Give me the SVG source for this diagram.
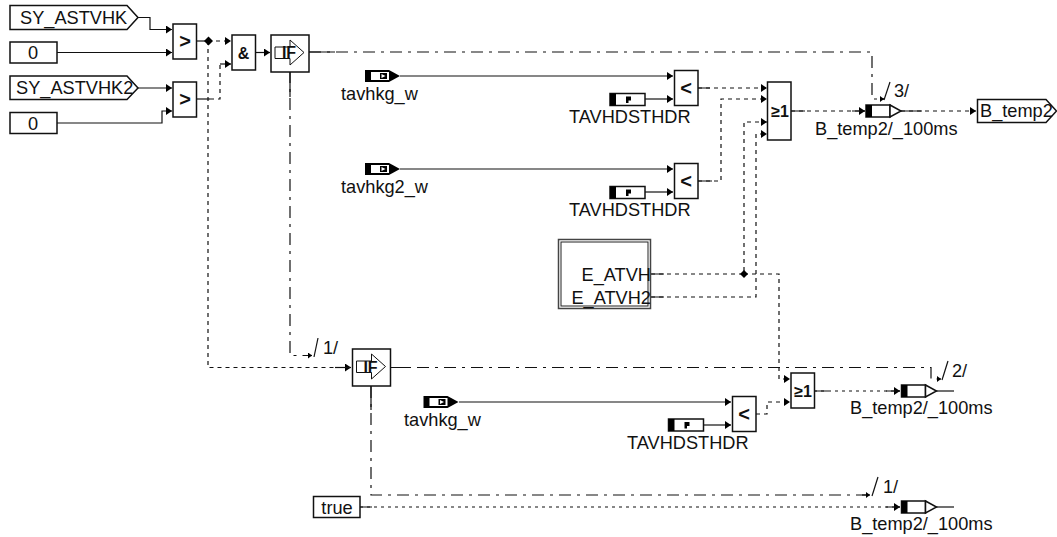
<svg xmlns="http://www.w3.org/2000/svg" xmlns:xlink="http://www.w3.org/1999/xlink" width="1057" height="537" viewBox="0 0 1057 537">
<style>
text{font-family:"Liberation Sans",Arial,sans-serif;fill:#111}
.l{font-size:18.2px}
.b{font-size:20px;font-weight:bold;text-anchor:middle}
.f{font-size:16px;font-weight:bold;text-anchor:middle}
.box{fill:#fff;stroke:#111;stroke-width:1.5}
.w{fill:none;stroke:#111;stroke-width:1.2}
.so{marker-end:url(#a)}
.sm{marker-end:url(#s)}
.dot{stroke-dasharray:4 4}
.fine{stroke-dasharray:3 4}
.dd{stroke-dasharray:12 6 3 6}
</style>
<defs>
<marker id="a" markerUnits="userSpaceOnUse" markerWidth="6" markerHeight="8" refX="6" refY="4" orient="auto"><path d="M0 0L6 4L0 8Z" fill="#000"/></marker>
<marker id="s" markerUnits="userSpaceOnUse" markerWidth="4" markerHeight="6" refX="4" refY="3" orient="auto"><path d="M0 0L4 3L0 6Z" fill="#000"/></marker>
<g id="gate"><rect class="box" x="0" y="0" width="23.500" height="35"/></g>
<g id="in"><path d="M0 0H24L35 6L24 12H0Z" fill="#000"/><rect x="6" y="2" width="18" height="8" fill="#fff"/><rect x="15" y="3" width="7" height="6" fill="#000"/><path d="M16.500 4L20.500 6L16.500 8Z" fill="#fff"/></g>
<g id="par"><rect class="box" x="0" y="0" width="35" height="12"/><rect x="0" y="0" width="6" height="12" fill="#000"/><path d="M16 3H21V7H18.500V9.500H16Z" fill="#000"/></g>
<g id="out"><rect class="box" x="0" y="0" width="24" height="12"/><rect x="0" y="0" width="6" height="12" fill="#000"/><path class="box" d="M24 0L35 6L24 12Z"/></g>
<g id="ifb"><rect class="box" x="0" y="0" width="38" height="37"/><path d="M4 12H19V5L33 17.500L19 30V23.500H4Z" fill="#fff" stroke="#111" stroke-width="1"/></g>
</defs>
<g id="connectors">
<path class="w so" d="M138 17.500H150V29.500H172"/>
<path class="w so" d="M57 52.500H172"/>
<path class="w so" d="M138 88H172"/>
<path class="w so" d="M57 123H162V111H172"/>
<path class="w" d="M197 41H208"/>
<path class="w so dot" d="M208 41H231"/>
<path class="w" d="M197 99H210"/>
<path class="w dot" d="M210 99H220V64"/>
<path class="w so" d="M220 64H231"/>
<path class="w so" d="M255 52.500H270"/>
<path class="w dd" d="M309 52H872V99H884"/>
<path class="w sm" d="M880 99H884"/>
<path class="w" d="M884 100L890 82"/>
<path class="w dd" d="M290 71V355.500H312"/>
<path class="w sm" d="M308 355.500H312"/>
<path class="w" d="M314 357L318 338"/>
<path class="w so dot" d="M208 41V367.500H351"/>
<path class="w" d="M335 367.500H351"/>
<path class="w dd" d="M390 367.500H931V379H941"/>
<path class="w sm" d="M937 379H941"/>
<path class="w" d="M942 380L948 361"/>
<path class="w dd" d="M371 386V495H870"/>
<path class="w sm" d="M862 495H870"/>
<path class="w" d="M872 496L878 477"/>
<path class="w so" d="M400 76H673"/>
<path class="w so" d="M400 169H673"/>
<path class="w so" d="M459 402H731"/>
<path class="w so" d="M645 99H673"/>
<path class="w so" d="M645 192H673"/>
<path class="w so" d="M703 425H731"/>
<path class="w so dot" d="M698 88H767"/>
<path class="w" d="M698 88H710M698 181H712"/>
<path class="w so dot" d="M698 181H721V99H767"/>
<path class="w so dot" d="M651 274H744V122H767"/>
<path class="w" d="M651 274H664M651 297H664"/>
<path class="w so dot" d="M651 297H756V134H767"/>
<path class="w so dot" d="M744 274H779V379H790"/>
<path class="w so dot" d="M756 414H767V402H790"/>
<path class="w so dot" d="M791 111H865"/>
<path class="w" d="M791 111H805M852 111H865M901 111H922"/>
<path class="w so dot" d="M901 111H976"/>
<path class="w so fine" d="M814 391H900"/>
<path class="w" d="M814 391H828M886 391H900"/>
<path class="w" d="M936 391H954"/>
<path class="w so fine" d="M360 507H900"/>
<path class="w" d="M360 507H372M886 507H900"/>
<path class="w" d="M936 507H954"/>
<path class="w" d="M309 52H335M290 71V97M390 367.500H410M371 386V410"/>
<path d="M208.500 36.500L213 41L208.500 45.500L204 41Z" fill="#000"/>
<path d="M744 270L748 274L744 278L740 274Z" fill="#000"/>
</g>
<g id="n-sy1"><path class="box" d="M10 5.500H127L138 17.500L127 29.500H10Z"/><text class="l" x="20" y="24">SY_ASTVHK</text></g>
<g id="n-zero1"><rect class="box" x="10" y="42" width="47" height="21"/><text class="l" x="33" y="59" text-anchor="middle">0</text></g>
<g id="n-sy2"><path class="box" d="M10 76H127L138 88L127 99.500H10Z"/><text class="l" x="16" y="94">SY_ASTVHK2</text></g>
<g id="n-zero2"><rect class="box" x="10" y="112.500" width="47" height="21"/><text class="l" x="33" y="130" text-anchor="middle">0</text></g>
<g id="n-gt1"><use xlink:href="#gate" href="#gate" x="173" y="24"/><text class="b" x="185" y="48">&gt;</text></g>
<g id="n-gt2"><use xlink:href="#gate" href="#gate" x="173" y="82"/><text class="b" x="185" y="106">&gt;</text></g>
<g id="n-and"><use xlink:href="#gate" href="#gate" x="232" y="35"/><text class="f" x="243.500" y="59">&amp;</text></g>
<g id="n-if1"><use xlink:href="#ifb" href="#ifb" x="271" y="35"/><text class="f" x="289" y="58">IF</text></g>
<g id="n-if2"><use xlink:href="#ifb" href="#ifb" x="352.500" y="349"/><text class="f" x="370.500" y="373">IF</text></g>
<g id="n-tav1"><use xlink:href="#in" href="#in" x="365" y="70"/><text class="l" x="341" y="100">tavhkg_w</text></g>
<g id="n-tav2"><use xlink:href="#in" href="#in" x="365" y="163"/><text class="l" x="341" y="193">tavhkg2_w</text></g>
<g id="n-tav3"><use xlink:href="#in" href="#in" x="423.500" y="396"/><text class="l" x="404" y="426">tavhkg_w</text></g>
<g id="n-par1"><use xlink:href="#par" href="#par" x="610" y="93.500"/><text class="l" x="569" y="123">TAVHDSTHDR</text></g>
<g id="n-par2"><use xlink:href="#par" href="#par" x="610" y="186.500"/><text class="l" x="569" y="216">TAVHDSTHDR</text></g>
<g id="n-par3"><use xlink:href="#par" href="#par" x="668.500" y="419"/><text class="l" x="627" y="449">TAVHDSTHDR</text></g>
<g id="n-lt1"><use xlink:href="#gate" href="#gate" x="674.500" y="70.500"/><text class="b" x="686" y="95">&lt;</text></g>
<g id="n-lt2"><use xlink:href="#gate" href="#gate" x="674.500" y="163.500"/><text class="b" x="686" y="188">&lt;</text></g>
<g id="n-lt3"><use xlink:href="#gate" href="#gate" x="732.500" y="396.500"/><text class="b" x="744" y="421">&lt;</text></g>
<g id="n-or1"><rect class="box" x="767.500" y="82" width="23.500" height="58"/><text class="f" x="780" y="117">≥1</text></g>
<g id="n-or2"><rect class="box" x="791" y="373" width="23.500" height="35"/><text class="f" x="803" y="397">≥1</text></g>
<g id="n-sub"><rect x="558.500" y="239.500" width="92" height="69" fill="#fff" stroke="#444" stroke-width="1.500"/><rect x="561" y="242" width="87" height="64" fill="none" stroke="#222" stroke-width="1"/><text class="l" x="651" y="281" text-anchor="end">E_ATVH</text><text class="l" x="651" y="304" text-anchor="end">E_ATVH2</text></g>
<g id="n-out1"><use xlink:href="#out" href="#out" x="866" y="105"/><text class="l" x="815" y="135">B_temp2/_100ms</text></g>
<g id="n-out2"><use xlink:href="#out" href="#out" x="901.500" y="385"/><text class="l" x="850" y="414">B_temp2/_100ms</text></g>
<g id="n-out3"><use xlink:href="#out" href="#out" x="901.500" y="501"/><text class="l" x="850" y="530">B_temp2/_100ms</text></g>
<g id="n-bt"><path class="box" d="M977.500 99.500H1046L1056.500 111L1046 122.500H977.500Z"/><text class="l" x="980" y="117">B_temp2</text></g>
<g id="n-true"><rect class="box" x="313.500" y="496.500" width="46.500" height="21"/><text class="l" x="337" y="514" text-anchor="middle">true</text></g>
<g id="labels"><text class="l" x="894" y="97">3/</text><text class="l" x="323" y="354">1/</text><text class="l" x="952" y="377">2/</text><text class="l" x="883" y="493">1/</text></g>
</svg>
